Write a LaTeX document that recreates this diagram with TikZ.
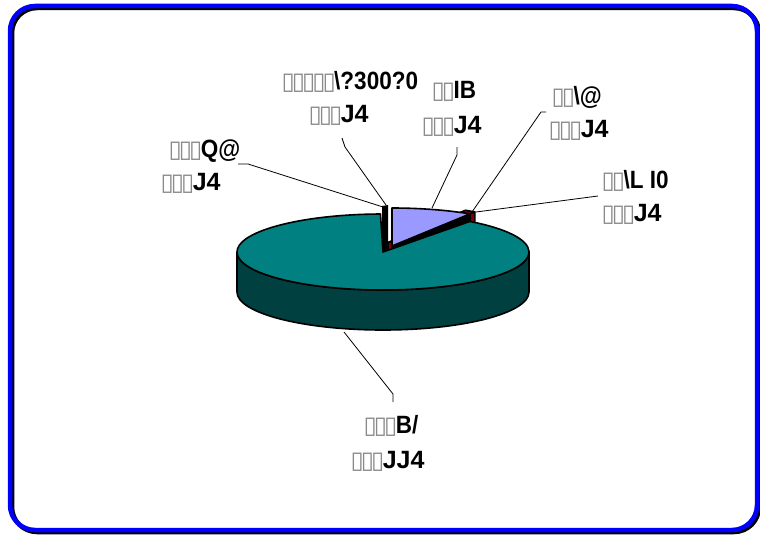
\documentclass[tikz,border=0pt]{standalone}
\usepackage{fontspec}
\usetikzlibrary{calc}
\setmainfont{Liberation Sans}
\newfontfamily\boxfont{DejaVu Sans}
\newfontfamily\condfont[FakeStretch=0.9]{Liberation Sans Bold}
\definecolor{tealtop}{HTML}{008080}
\definecolor{tealside}{HTML}{004040}
\definecolor{slblue}{HTML}{9999FF}
\definecolor{slred}{HTML}{800000}
\definecolor{boxgray}{HTML}{8A8A8A}
\definecolor{frameblue}{HTML}{0000FF}
\newcommand\bx{{\boxfont\fontsize{24}{24}\selectfont\color{boxgray}\kern-1.5pt ▯\kern-1.5pt}}
\tikzset{
  lab/.style={anchor=base west, inner sep=0pt, font=\fontsize{25}{25}\selectfont\bfseries},
  labc/.style={anchor=base west, inner sep=0pt, font=\fontsize{25}{25}\selectfont\condfont},
  lead/.style={draw=black, line width=0.8pt},
  pieedge/.style={draw=black, line width=1.6pt, line join=round},
}
\begin{document}
\begin{tikzpicture}[x=1pt,y=-1pt]
\useasboundingbox (0,0) rectangle (760,535);
% frame with shadow
\draw[black, line width=4.5pt, rounded corners=25pt] (12,8) rectangle (759,532);
\draw[frameblue, line width=4.5pt, rounded corners=25pt] (10,6) rectangle (757,530);

% centre of pie and exploded apices
\coordinate (C) at (383,252);
\coordinate (B0) at (392,246);
\coordinate (R0) at (388,242.5);

% side face of main slice
\path[pieedge, fill=tealside] ($(C)+(-146,0)$) arc[start angle=180, end angle=0, x radius=146, y radius=38]
  -- ++(0,40) arc[start angle=0, end angle=180, x radius=146, y radius=38] -- cycle;

% red slice (cut face + top)
\path[pieedge, fill=slred] (R0) -- ($(R0)+(-53.5:146 and 38)$) -- ++(0,40) -- ($(R0)+(0,40)$) -- cycle;
\path[pieedge, fill=slred] (R0) -- ($(R0)+(-58:146 and 38)$) arc[start angle=-58, end angle=-53.5, x radius=146, y radius=38] -- cycle;

% blue slice (cut face + top)
\path[draw=black, line width=1.6pt, fill=black] (B0) -- ($(B0)+(-57.7:146 and 38)$) -- ++(0,40) -- ($(B0)+(0,40)$) -- cycle;
\path[pieedge, fill=slblue] (B0) -- ($(B0)+(-90:146 and 38)$) arc[start angle=-90, end angle=-57.7, x radius=146, y radius=38] -- cycle;

% tiny slices
\path[fill=black] (382,206) -- (388,205) -- (388,250) -- (385,254) -- (382,253) -- cycle;

% top face of main slice
\path[pieedge, fill=tealtop] (C) -- ($(C)+(-91:146 and 38)$) arc[start angle=-91, end angle=-413.5, x radius=146, y radius=38] -- cycle;

% labels
\node[labc] (l1a) at (283,89) {\bx\bx\bx\bx\bx\textbackslash?300?0};
\node[lab] (l1b) at (310,122) {\bx\bx\bx J4};
\node[labc] (l2a) at (433,98) {\bx\bx IB};
\node[lab] (l2b) at (423,133) {\bx\bx\bx J4};
\node[labc] (l3a) at (553,104) {\bx\bx\textbackslash @};
\node[lab] (l3b) at (550,137) {\bx\bx\bx J4};
\node[labc] (l4a) at (603,188) {\bx\bx\textbackslash L I0};
\node[lab] (l4b) at (603,221) {\bx\bx\bx J4};
\node[labc] (l5a) at (170,157) {\bx\bx\bx Q@};
\node[lab] (l5b) at (162,190) {\bx\bx\bx J4};
\node[labc] (l6a) at (365,433) {\bx\bx\bx B/};
\node[lab] (l6b) at (352,468) {\bx\bx\bx JJ4};

% leader lines
\coordinate (k5) at (238,164); \coordinate (s5) at (383,207);
\coordinate (k1) at (342,138); \coordinate (s1) at (386,205);
\coordinate (k2) at (457,147); \coordinate (s2) at (432,208);
\coordinate (k3) at (546,112); \coordinate (s3) at (472,212);
\coordinate (k4) at (598,196); \coordinate (s4) at (476,212);
\coordinate (k6) at (393,402); \coordinate (s6) at (344,332);
\draw[lead] (k5) -- ++(10,0) -- (s5);
\draw[lead] (k1) -- ++(3,9) -- (s1);
\draw[lead] (k2) -- ++(0,8) -- (s2);
\draw[lead] (k3) -- ++(-5,0) -- (s3);
\draw[lead] (k4) -- (s4);
\draw[lead] (k6) -- ++(0,-8) -- (s6);
\end{tikzpicture}
\end{document}
